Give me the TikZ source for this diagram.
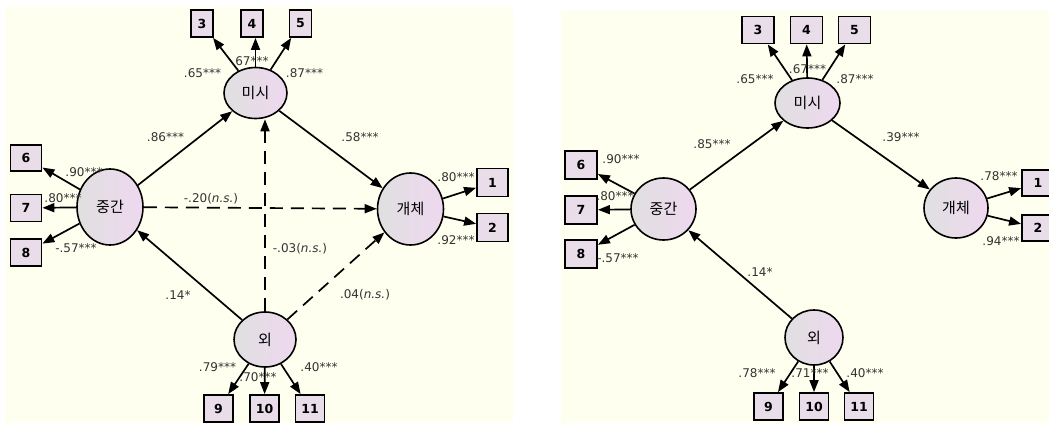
\documentclass[tikz,border=0pt]{standalone}
\usepackage{fontspec}
\setmainfont{DejaVu Sans}
\newfontfamily\krfont{Noto Sans CJK KR}
\usetikzlibrary{shapes.geometric,arrows.meta}
\definecolor{cream}{HTML}{FFFFF0}
\definecolor{lav}{HTML}{EED8EF}
\definecolor{gry}{HTML}{E0E0E0}
\definecolor{boxfill}{HTML}{E8DDE9}
\definecolor{lbl}{HTML}{333333}
\begin{document}
\begin{tikzpicture}[x=1pt,y=-1pt,
 lat/.style={ellipse,draw=black,line width=1.6pt,left color=gry,right color=lav,inner sep=0pt,font={\fontsize{15}{17}\selectfont\krfont}},
 obs/.style={rectangle,draw=black,line width=1.8pt,fill=boxfill,inner sep=0pt,font={\fontsize{12.5}{14}\selectfont\bfseries}},
 pth/.style={line width=1.7pt,-{Triangle[length=12pt,width=9pt]}},
 dsh/.style={pth,dash pattern=on 13pt off 8pt},
 lab/.style={font={\fontsize{12}{14}\selectfont},text=lbl,inner sep=0pt}
]
\useasboundingbox (0,0) rectangle (1049,423);
\fill[cream] (5,7) rectangle (513,423);
\fill[cream] (561,10) rectangle (1049,423);

% ---------- LEFT PANEL ----------
\node[lat,minimum width=63pt,minimum height=51pt] (mi) at (255.5,93) {미시};
\node[lat,minimum width=66pt,minimum height=76pt] (jung) at (110,207) {중간};
\node[lat,minimum width=66pt,minimum height=72pt] (gae) at (410.5,209) {개체};
\node[lat,minimum width=62pt,minimum height=55pt] (oe) at (265,339.5) {외};

\node[obs,minimum width=22pt,minimum height=27pt] (b3) at (202,23.5) {3};
\node[obs,minimum width=22pt,minimum height=27pt] (b4) at (252,23.5) {4};
\node[obs,minimum width=22pt,minimum height=27pt] (b5) at (300.5,23.5) {5};
\node[obs,minimum width=31pt,minimum height=26pt] (b6) at (26,158) {6};
\node[obs,minimum width=31pt,minimum height=27pt] (b7) at (26,208) {7};
\node[obs,minimum width=31pt,minimum height=27pt] (b8) at (26,252.5) {8};
\node[obs,minimum width=31pt,minimum height=28pt] (b1) at (492.5,182.5) {1};
\node[obs,minimum width=31pt,minimum height=28pt] (b2) at (492.5,227.5) {2};
\node[obs,minimum width=29pt,minimum height=27pt] (b9) at (218.5,408.5) {9};
\node[obs,minimum width=29pt,minimum height=27pt] (b10) at (264.5,408.5) {10};
\node[obs,minimum width=29pt,minimum height=27pt] (b11) at (310,408.5) {11};

\draw[pth] (mi) -- (b3);
\draw[pth] (mi.north) -- (mi.north |- b4.south);
\draw[pth] (mi) -- (b5);
\draw[pth] (jung) -- (b6);
\draw[pth] (jung) -- (b7);
\draw[pth] (jung) -- (b8);
\draw[pth] (gae) -- (b1);
\draw[pth] (gae) -- (b2);
\draw[pth] (oe) -- (b9);
\draw[pth] (oe) -- (b10);
\draw[pth] (oe) -- (b11);
\draw[pth] (jung) -- (mi);
\draw[pth] (mi) -- (gae);
\draw[pth] (oe) -- (jung);
\draw[dsh] (jung) -- (gae);
\draw[dsh] (oe) -- (oe |- mi.south);
\draw[dsh] (oe) -- (gae);

\node[lab] (l1) at (202.5,73) {.65***};
\node[lab] (l2) at (250,61) {.67***};
\node[lab] (l3) at (304.5,73) {.87***};
\node[lab] (l4) at (165.5,137.5) {.86***};
\node[lab] (l5) at (360,137) {.58***};
\node[lab] (l6) at (84,172) {.90***};
\node[lab] (l7) at (63,198) {.80***};
\node[lab] (l8) at (76,248) {-.57***};
\node[lab] (l9) at (211,199) {-.20(\textit{n.s.})};
\node[lab] (l10) at (300,249) {-.03(\textit{n.s.})};
\node[lab] (l11) at (456,177) {.80***};
\node[lab] (l12) at (456,240) {.92***};
\node[lab] (l13) at (178,295) {.14*};
\node[lab] (l14) at (365,295) {.04(\textit{n.s.})};
\node[lab] (l15) at (217.5,367) {.79***};
\node[lab] (l16) at (258,377) {.70***};
\node[lab] (l17) at (319,367) {.40***};

% ---------- RIGHT PANEL ----------
\node[lat,minimum width=65pt,minimum height=50pt] (mi2) at (807.5,103) {미시};
\node[lat,minimum width=65pt,minimum height=62pt] (jung2) at (663.5,209) {중간};
\node[lat,minimum width=64pt,minimum height=60pt] (gae2) at (956,208) {개체};
\node[lat,minimum width=58pt,minimum height=55pt] (oe2) at (814,337.5) {외};

\node[obs,minimum width=32pt,minimum height=27pt] (c3) at (758,30) {3};
\node[obs,minimum width=32pt,minimum height=27pt] (c4) at (806.5,30) {4};
\node[obs,minimum width=32pt,minimum height=27pt] (c5) at (854.5,30) {5};
\node[obs,minimum width=32pt,minimum height=28pt] (c6) at (581,165) {6};
\node[obs,minimum width=32pt,minimum height=28pt] (c7) at (581,210) {7};
\node[obs,minimum width=32pt,minimum height=28pt] (c8) at (581,254) {8};
\node[obs,minimum width=32pt,minimum height=26pt] (c1) at (1038,183) {1};
\node[obs,minimum width=32pt,minimum height=26pt] (c2) at (1038,228) {2};
\node[obs,minimum width=29pt,minimum height=27pt] (c9) at (768.5,406.5) {9};
\node[obs,minimum width=29pt,minimum height=27pt] (c10) at (814,406.5) {10};
\node[obs,minimum width=29pt,minimum height=27pt] (c11) at (859,406.5) {11};

\draw[pth] (mi2) -- (c3);
\draw[pth] (mi2) -- (c4);
\draw[pth] (mi2) -- (c5);
\draw[pth] (jung2) -- (c6);
\draw[pth] (jung2) -- (c7);
\draw[pth] (jung2) -- (c8);
\draw[pth] (gae2) -- (c1);
\draw[pth] (gae2) -- (c2);
\draw[pth] (oe2) -- (c9);
\draw[pth] (oe2) -- (c10);
\draw[pth] (oe2) -- (c11);
\draw[pth] (jung2) -- (mi2);
\draw[pth] (mi2) -- (gae2);
\draw[pth] (oe2) -- (jung2);

\node[lab] (r1) at (755,79) {.65***};
\node[lab] (r2) at (807.5,69) {.67***};
\node[lab] (r3) at (855,79) {.87***};
\node[lab] (r4) at (712,144) {.85***};
\node[lab] (r5) at (901,137) {.39***};
\node[lab] (r6) at (621,159) {.90***};
\node[lab] (r7) at (615,196) {.80***};
\node[lab] (r8) at (618,258) {-.57***};
\node[lab] (r9) at (999,176) {.78***};
\node[lab] (r10) at (1001,241) {.94***};
\node[lab] (r11) at (760,272) {.14*};
\node[lab] (r12) at (757,373) {.78***};
\node[lab] (r13) at (810,373) {.71***};
\node[lab] (r14) at (865,373) {.40***};
\end{tikzpicture}
\end{document}
